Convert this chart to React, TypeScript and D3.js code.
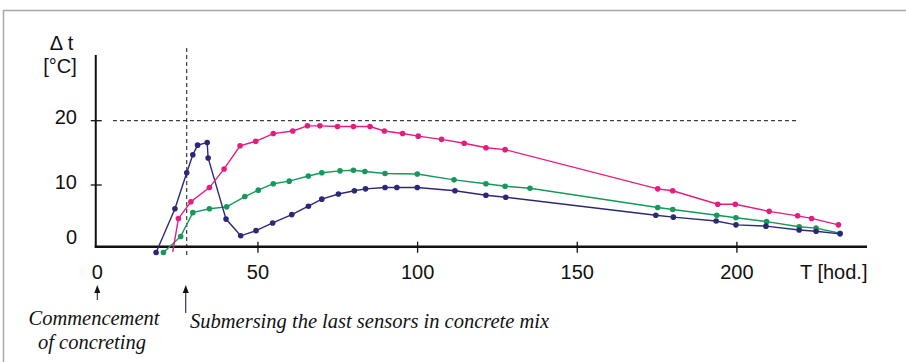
import { useEffect, useRef } from "react"
import * as d3 from "d3"

// hours since start of concreting
const blueHours = [18.1, 24.0, 27.7, 29.6, 31.1, 34.1, 34.4, 40.0, 44.6, 49.4, 54.6, 60.6, 65.8, 70.0, 75.2, 80.2, 83.7, 89.8, 93.5, 99.9, 111.7, 121.4, 127.6, 174.6, 180.1, 193.5, 199.7, 209.1, 219.5, 224.8, 232.3]
const blueTemp = [-0.5, 6.3, 11.9, 14.7, 16.2, 16.6, 14.2, 4.7, 2.1, 2.9, 4.1, 5.4, 6.7, 7.8, 8.6, 9.1, 9.4, 9.6, 9.6, 9.6, 9.1, 8.4, 8.1, 5.3, 5.0, 4.4, 3.8, 3.6, 3.0, 2.8, 2.4]

const pinkHours = [23.3, 25.1, 29.0, 34.8, 39.4, 44.4, 49.3, 54.8, 60.9, 65.5, 69.4, 74.9, 79.9, 85.1, 89.6, 95.3, 100.2, 107.5, 114.6, 121.4, 127.4, 175.2, 179.9, 194.0, 199.5, 210.1, 219.0, 223.4, 231.8]
const pinkTemp = [-0.4, 4.8, 7.4, 9.6, 12.5, 16.1, 16.8, 18.0, 18.4, 19.2, 19.2, 19.1, 19.1, 19.1, 18.4, 18.0, 17.6, 17.1, 16.5, 15.8, 15.5, 9.4, 9.1, 7.0, 7.0, 5.9, 5.2, 4.8, 3.8]

const greenHours = [20.4, 25.8, 29.6, 34.8, 40.2, 45.9, 50.1, 54.8, 59.8, 65.8, 70.0, 75.7, 79.9, 83.5, 89.8, 99.9, 111.4, 121.4, 127.4, 135.2, 175.2, 179.9, 193.7, 199.7, 209.3, 219.5, 224.8, 232.3]
const greenTemp = [-0.5, 2.0, 5.7, 6.3, 6.6, 8.2, 9.2, 10.2, 10.6, 11.4, 11.9, 12.2, 12.3, 12.1, 11.8, 11.7, 10.8, 10.2, 9.8, 9.5, 6.5, 6.2, 5.3, 4.9, 4.3, 3.5, 3.3, 2.5]

const xTicks = [50, 100, 150, 200]
const xLabels = [0, 50, 100, 150, 200]
const yTicks = [10, 20]
const yLabels = [0, 10, 20]

const submersionHour = 27.7
const limitTemp = 20

export default function App() {
  const ref = useRef<SVGSVGElement | null>(null)

  useEffect(() => {
    const svg = d3.select(ref.current)
    svg.selectAll("*").remove()

    const x = d3.scaleLinear().domain([0, 200]).range([98.3, 736.9])
    const y = d3.scaleLinear().domain([0, 20]).range([249.3, 120.7])

    const sans = "'Liberation Sans', Arial, sans-serif"
    const serif = "'Liberation Serif', 'Times New Roman', serif"

    // frame
    svg.append("rect")
      .attr("x", 3.5).attr("y", 10.5)
      .attr("width", 920).attr("height", 380)
      .attr("fill", "none").attr("stroke", "#a8a8a8").attr("stroke-width", 1.5)

    // dashed guides
    svg.append("line")
      .attr("x1", x(4.6)).attr("x2", x(218.9))
      .attr("y1", y(limitTemp)).attr("y2", y(limitTemp))
      .attr("stroke", "#111").attr("stroke-width", 1).attr("stroke-dasharray", "4,3")

    svg.append("line")
      .attr("x1", x(submersionHour)).attr("x2", x(submersionHour))
      .attr("y1", y(31.3)).attr("y2", y(-1.15))
      .attr("stroke", "#111").attr("stroke-width", 1).attr("stroke-dasharray", "4,3")

    // axes
    const axisY = y(0.4)
    svg.append("line")
      .attr("x1", x(-0.8)).attr("x2", x(-0.8))
      .attr("y1", 55).attr("y2", axisY + 1)
      .attr("stroke", "#111").attr("stroke-width", 2)
    svg.append("line")
      .attr("x1", x(-0.8) - 1).attr("x2", 867)
      .attr("y1", axisY).attr("y2", axisY)
      .attr("stroke", "#111").attr("stroke-width", 2.5)

    svg.selectAll(".xt")
      .data(xTicks)
      .enter()
      .append("line")
      .attr("x1", d => x(d)).attr("x2", d => x(d))
      .attr("y1", axisY - 5).attr("y2", axisY + 6)
      .attr("stroke", "#111").attr("stroke-width", 1.3)

    svg.selectAll(".yt")
      .data(yTicks)
      .enter()
      .append("line")
      .attr("x1", x(-0.8) - 5).attr("x2", x(-0.8) + 6)
      .attr("y1", d => y(d)).attr("y2", d => y(d))
      .attr("stroke", "#111").attr("stroke-width", 1.3)

    svg.selectAll(".xl")
      .data(xLabels)
      .enter()
      .append("text")
      .text(d => d)
      .attr("x", d => x(d) - (d === 0 ? 1 : 0))
      .attr("y", 279)
      .attr("text-anchor", "middle")
      .attr("font-family", sans).attr("font-size", 20).attr("fill", "#111")

    svg.selectAll(".yl")
      .data(yLabels)
      .enter()
      .append("text")
      .text(d => d)
      .attr("x", 77)
      .attr("y", d => d === 0 ? 244 : y(d) + 3.5)
      .attr("text-anchor", "end")
      .attr("font-family", sans).attr("font-size", 20).attr("fill", "#111")

    svg.append("text").text("Δ t")
      .attr("x", 61.5).attr("y", 50).attr("text-anchor", "middle")
      .attr("font-family", sans).attr("font-size", 20).attr("fill", "#111")
    svg.append("text").text("[°C]")
      .attr("x", 60).attr("y", 73).attr("text-anchor", "middle")
      .attr("font-family", sans).attr("font-size", 20).attr("fill", "#111")
    svg.append("text").text("T [hod.]")
      .attr("x", 800).attr("y", 279)
      .attr("font-family", sans).attr("font-size", 20).attr("fill", "#111")

    // annotation arrows
    const arrows = [
      { hour: 0, bottom: 300 },
      { hour: submersionHour, bottom: 313 },
    ]
    const tip = 285
    svg.selectAll(".arr")
      .data(arrows)
      .enter()
      .append("line")
      .attr("x1", d => x(d.hour) - 1).attr("x2", d => x(d.hour) - 1)
      .attr("y1", d => d.bottom).attr("y2", tip + 5)
      .attr("stroke", "#111").attr("stroke-width", 1)
    svg.selectAll(".arh")
      .data(arrows)
      .enter()
      .append("path")
      .attr("d", d => {
        const cx = x(d.hour) - 1
        return `M${cx},${tip} L${cx - 3},${tip + 8} L${cx + 3},${tip + 8} Z`
      })
      .attr("fill", "#111")

    const italic = (t: string, px: number, py: number, anchor: string) =>
      svg.append("text").text(t)
        .attr("x", px).attr("y", py).attr("text-anchor", anchor)
        .attr("font-family", serif).attr("font-style", "italic")
        .attr("font-size", 20.5).attr("fill", "#111")

    italic("Commencement", 94, 325, "middle")
    italic("of concreting", 92, 349, "middle")
    italic("Submersing the last sensors in concrete mix", 190, 328, "start")

    // series
    const series = [
      { hours: greenHours, temp: greenTemp, color: "#14995a", skipFirst: false },
      { hours: blueHours, temp: blueTemp, color: "#2c2878", skipFirst: false },
      { hours: pinkHours, temp: pinkTemp, color: "#e41c80", skipFirst: true },
    ]

    const line = d3.line<[number, number]>()
      .x(d => x(d[0]))
      .y(d => y(d[1]))

    series.forEach(s => {
      const pts = s.hours.map((h, i) => [h, s.temp[i]] as [number, number])
      svg.append("path")
        .attr("d", line(pts))
        .attr("fill", "none")
        .attr("stroke", s.color)
        .attr("stroke-width", 1.4)

      svg.selectAll(null)
        .data(s.skipFirst ? pts.slice(1) : pts)
        .enter()
        .append("circle")
        .attr("cx", d => x(d[0]))
        .attr("cy", d => y(d[1]))
        .attr("r", 2.8)
        .attr("fill", s.color)
    })
  }, [])

  return (
    <svg
      ref={ref}
      width={906}
      height={362}
      style={{ position: "absolute", left: 0, top: 0, background: "#fff" }}
    />
  )
}
